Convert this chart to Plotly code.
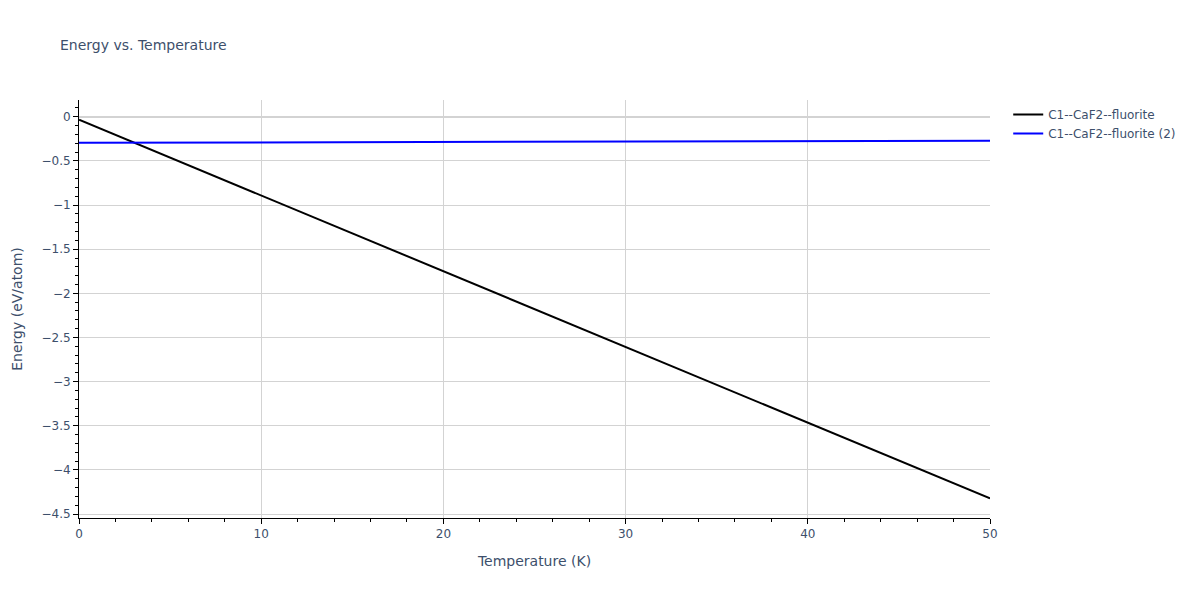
import plotly.graph_objects as go

temps = [0, 5, 10, 15, 20, 25, 30, 35, 40, 45, 50]
energy_1 = [-0.034, -0.463, -0.892, -1.321, -1.750, -2.179, -2.608, -3.037, -3.466, -3.895, -4.323]
energy_2 = [-0.295, -0.293, -0.291, -0.289, -0.287, -0.285, -0.283, -0.281, -0.278, -0.275, -0.272]

fig = go.Figure()
fig.add_trace(go.Scatter(x=temps, y=energy_1, mode="lines", name="C1--CaF2--fluorite",
                         line=dict(color="black", width=2)))
fig.add_trace(go.Scatter(x=temps, y=energy_2, mode="lines", name="C1--CaF2--fluorite (2)",
                         line=dict(color="blue", width=2)))

fig.update_layout(
    width=1200, height=600,
    font=dict(family="Verdana, DejaVu Sans, sans-serif", size=12, color="#3d4f6b"),
    title=dict(text="Energy vs. Temperature", x=0.05, font=dict(size=14)),
    plot_bgcolor="white", paper_bgcolor="white",
    margin=dict(l=79, r=210, t=100, b=82),
    legend=dict(x=1.02, y=1, yanchor="top"),
)
fig.update_xaxes(title_text="Temperature (K)", range=[0, 50], dtick=10,
                 showline=True, linecolor="black", linewidth=1,
                 ticks="outside", tickcolor="black",
                 showgrid=True, gridcolor="lightgray",
                 minor=dict(dtick=2, ticks="outside", tickcolor="black", showgrid=False),
                 zeroline=False)
fig.update_yaxes(title_text="Energy (eV/atom)", range=[-4.545, 0.19], dtick=0.5,
                 showline=True, linecolor="black", linewidth=1,
                 ticks="outside", tickcolor="black",
                 showgrid=True, gridcolor="lightgray",
                 minor=dict(dtick=0.1, ticks="outside", tickcolor="black", showgrid=False),
                 zeroline=True, zerolinecolor="lightgray", zerolinewidth=2)

fig.write_html("out.html", config={"displayModeBar": False},
               post_script="document.body.style.margin='0';")
